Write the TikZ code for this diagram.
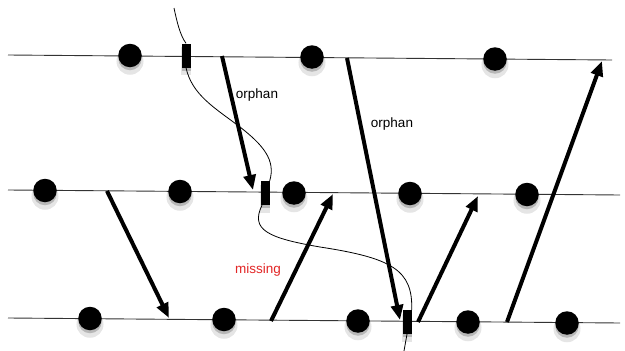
\documentclass[tikz,border=0pt]{standalone}
\usepackage{fontspec}
\setmainfont{Liberation Sans}
\usetikzlibrary{arrows.meta,shadows}
\definecolor{missred}{RGB}{226,38,38}
\begin{document}
\begin{tikzpicture}[x=1pt,y=-1pt,
  timeline/.style={line width=0.9pt, draw=black!80},
  soft/.style={drop shadow={shadow xshift=0pt,shadow yshift=-3pt,opacity=.2,fill=black},
               drop shadow={shadow xshift=0pt,shadow yshift=-5pt,opacity=.1,fill=black,shadow scale=1.15}},
  event/.style={circle, fill=black, minimum size=23.5pt, inner sep=0pt, soft},
  ckpt/.style={rectangle, fill=black, minimum width=9pt, minimum height=24pt, inner sep=0pt, soft},
  msg/.style={line width=4pt, -{Triangle[length=15pt,width=12pt]}},
  lbl/.style={font=\fontsize{13.5}{16}\selectfont}
]
\useasboundingbox (0,0) rectangle (625,351);
% timelines
\coordinate (tl) at (8,55);   \coordinate (tr) at (612,60);
\coordinate (ml) at (8,190);  \coordinate (mr) at (620,195);
\coordinate (bl) at (8,318);  \coordinate (br) at (620,323);
\draw[timeline] (tl) -- (tr);
\draw[timeline] (ml) -- (mr);
\draw[timeline] (bl) -- (br);
% checkpoints
\node[ckpt] (c1) at (186,55.5) {};
\node[ckpt] (c2) at (265,193) {};
\node[ckpt] (c3) at (407,322) {};
% recovery line
\coordinate (r0) at (174,8);
\coordinate (r4) at (404,351);
\draw[line width=0.8pt] (r0) .. controls (177,22) and (180,35) .. (c1.north);
\draw[line width=0.8pt] (c1.south) .. controls (192,95) and (215,108) .. (240,127)
   .. controls (263,145) and (276,160) .. (c2.north east);
\draw[line width=0.8pt] ([xshift=-3pt]c2.south) .. controls (250,230) and (268,238) .. (320,247)
   .. controls (392,258) and (413,270) .. (c3.north east);
\draw[line width=0.8pt] (c3.south) -- (r4);
% message endpoints
\coordinate (m1s) at (222,56);  \coordinate (m1e) at (253,190);
\coordinate (m2s) at (347,58);  \coordinate (m2e) at (400,320);
\coordinate (m3s) at (107,191); \coordinate (m3e) at (169,318);
\coordinate (m4s) at (271,321); \coordinate (m4e) at (333,194);
\coordinate (m5s) at (418,322); \coordinate (m5e) at (478,196);
\coordinate (m6s) at (507,322); \coordinate (m6e) at (602,61);
\draw[msg] (m1s) -- (m1e);
\draw[msg] (m2s) -- (m2e);
\draw[msg] (m3s) -- (m3e);
\draw[msg] (m4s) -- (m4e);
\draw[msg] (m5s) -- (m5e);
\draw[msg] (m6s) -- (m6e);
% events
\node[event] (p1a) at (130,55.5) {};
\node[event] (p1b) at (312,57) {};
\node[event] (p1c) at (495,59) {};
\node[event] (p2a) at (45,190.5) {};
\node[event] (p2b) at (180,191.5) {};
\node[event] (p2c) at (294,193) {};
\node[event] (p2d) at (410,193.5) {};
\node[event] (p2e) at (527,194.5) {};
\node[event] (p3a) at (90,318.5) {};
\node[event] (p3b) at (224,319.5) {};
\node[event] (p3c) at (358,321) {};
\node[event] (p3d) at (468,322) {};
\node[event] (p3e) at (567,323) {};
% labels
\node[lbl] (o1) at (257,95) {orphan};
\node[lbl] (o2) at (392,124) {orphan};
\node[lbl, text=missred] (ms) at (258,270) {missing};
\end{tikzpicture}
\end{document}
